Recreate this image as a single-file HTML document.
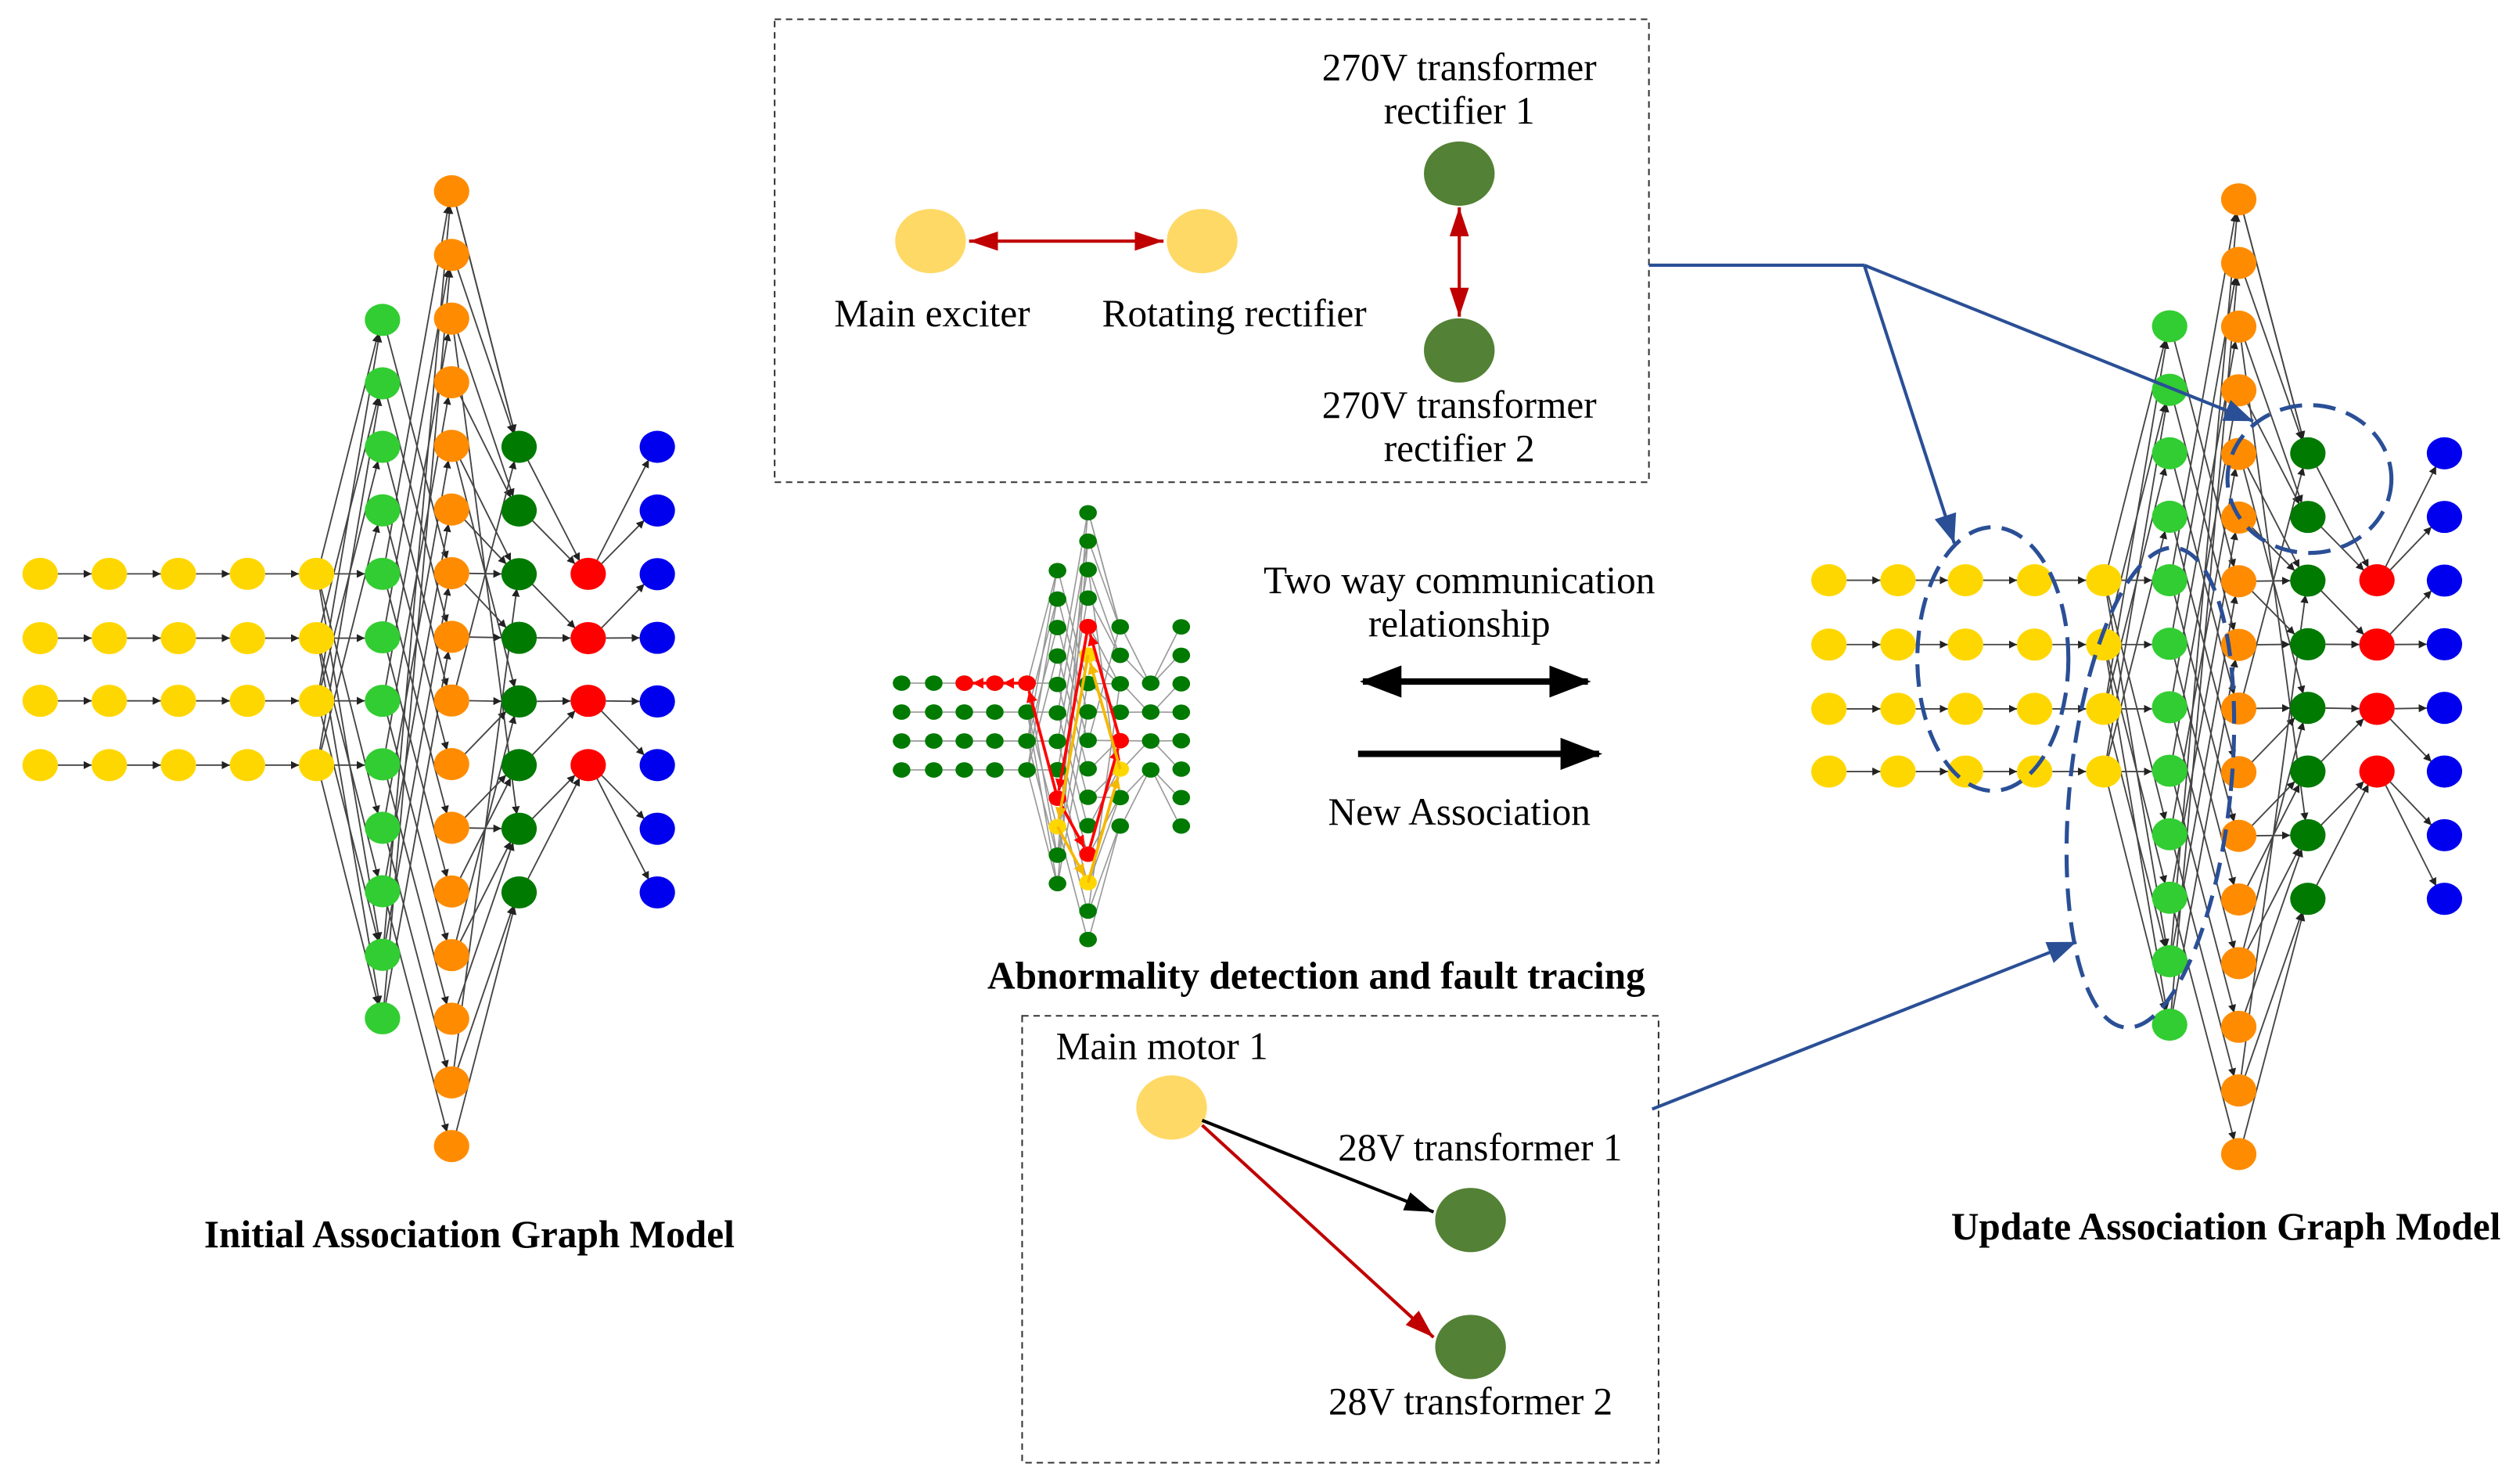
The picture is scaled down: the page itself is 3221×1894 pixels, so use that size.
<!DOCTYPE html>
<html><head><meta charset="utf-8">
<style>
html,body{margin:0;padding:0;background:#fff;}
svg{display:block;}
text{font-family:"Liberation Serif",serif;fill:#000;}
</style></head>
<body>
<svg id="s" width="3221" height="1894" viewBox="0 0 1568 922" xmlns="http://www.w3.org/2000/svg">
<defs>
<marker id="ak" markerWidth="6" markerHeight="6" refX="5" refY="3" orient="auto" markerUnits="userSpaceOnUse"><path d="M0,0.5 L5,3 L0,5.5z" fill="#222"/></marker>
<marker id="bb" markerWidth="20" markerHeight="16" refX="18" refY="8" orient="auto" markerUnits="userSpaceOnUse"><path d="M0,1 L18,8 L0,15z" fill="#2a4f96"/></marker>
<marker id="rr" markerWidth="20" markerHeight="14" refX="18" refY="7" orient="auto-start-reverse" markerUnits="userSpaceOnUse"><path d="M0,1 L18,7 L0,13z" fill="#c00000"/></marker>
<marker id="kk" markerWidth="20" markerHeight="14" refX="18" refY="7" orient="auto" markerUnits="userSpaceOnUse"><path d="M0,1 L18,7 L0,13z" fill="#000"/></marker>
<marker id="KK" markerWidth="26" markerHeight="20" refX="24" refY="10" orient="auto-start-reverse" markerUnits="userSpaceOnUse"><path d="M0,0 L26,10 L0,20z" fill="#000"/></marker>
<marker id="mr" markerWidth="8" markerHeight="8" refX="7" refY="4" orient="auto" markerUnits="userSpaceOnUse"><path d="M0,0.5 L7,4 L0,7.5z" fill="#f00"/></marker>
<marker id="my" markerWidth="8" markerHeight="8" refX="7" refY="4" orient="auto" markerUnits="userSpaceOnUse"><path d="M0,0.5 L7,4 L0,7.5z" fill="#f5b800"/></marker>
</defs>
<g id="g"></g>

<rect x="482" y="12" width="544" height="288" fill="none" stroke="#333" stroke-width="1" stroke-dasharray="4,3"/>
<ellipse cx="579" cy="150" rx="22" ry="20" fill="#ffd966"/>
<ellipse cx="748" cy="150" rx="22" ry="20" fill="#ffd966"/>
<line x1="603" y1="150" x2="724" y2="150" stroke="#c00000" stroke-width="2" marker-end="url(#rr)" marker-start="url(#rr)"/>
<ellipse cx="908" cy="108" rx="22" ry="20" fill="#538135"/>
<ellipse cx="908" cy="218" rx="22" ry="20" fill="#538135"/>
<line x1="908" y1="129" x2="908" y2="197" stroke="#c00000" stroke-width="2" marker-end="url(#rr)" marker-start="url(#rr)"/>
<text x="580" y="203" font-size="24" text-anchor="middle">Main exciter</text>
<text x="768" y="203" font-size="24" text-anchor="middle">Rotating rectifier</text>
<text x="908" y="50" font-size="24" text-anchor="middle">270V transformer</text>
<text x="908" y="77" font-size="24" text-anchor="middle">rectifier 1</text>
<text x="908" y="260" font-size="24" text-anchor="middle">270V transformer</text>
<text x="908" y="287" font-size="24" text-anchor="middle">rectifier 2</text>

<rect x="636" y="632" width="396" height="278" fill="none" stroke="#333" stroke-width="1" stroke-dasharray="4,3"/>
<text x="723" y="659" font-size="24" text-anchor="middle">Main motor 1</text>
<ellipse cx="729" cy="689" rx="22" ry="20" fill="#ffd966"/>
<ellipse cx="915" cy="759" rx="22" ry="20" fill="#538135"/>
<ellipse cx="915" cy="838" rx="22" ry="20" fill="#538135"/>
<line x1="748" y1="697" x2="892" y2="754" stroke="#000" stroke-width="2" marker-end="url(#kk)"/>
<line x1="748" y1="700" x2="892" y2="832" stroke="#c00000" stroke-width="2" marker-end="url(#rr)"/>
<text x="921" y="722" font-size="24" text-anchor="middle">28V transformer 1</text>
<text x="915" y="880" font-size="24" text-anchor="middle">28V transformer 2</text>

<text x="908" y="369" font-size="24" text-anchor="middle">Two way communication</text>
<text x="908" y="396" font-size="24" text-anchor="middle">relationship</text>
<line x1="848" y1="424" x2="988" y2="424" stroke="#000" stroke-width="4" marker-end="url(#KK)" marker-start="url(#KK)"/>
<line x1="845" y1="469" x2="995" y2="469" stroke="#000" stroke-width="4" marker-end="url(#KK)"/>
<text x="908" y="513" font-size="24" text-anchor="middle">New Association</text>

<text x="819" y="615" font-size="24" font-weight="bold" text-anchor="middle">Abnormality detection and fault tracing</text>
<text x="292" y="776" font-size="24" font-weight="bold" text-anchor="middle">Initial Association Graph Model</text>
<text x="1385" y="771" font-size="24" font-weight="bold" text-anchor="middle">Update Association Graph Model</text>

<polyline points="1026,165 1160,165" fill="none" stroke="#2a4f96" stroke-width="2"/>
<line x1="1160" y1="165" x2="1216" y2="338" stroke="#2a4f96" stroke-width="2" marker-end="url(#bb)"/>
<line x1="1160" y1="165" x2="1402" y2="262" stroke="#2a4f96" stroke-width="2" marker-end="url(#bb)"/>
<line x1="1028" y1="690" x2="1292" y2="586" stroke="#2a4f96" stroke-width="2" marker-end="url(#bb)"/>
<ellipse cx="1240" cy="410" rx="47" ry="82" fill="none" stroke="#2a4f96" stroke-width="2.5" stroke-dasharray="14,7"/>
<ellipse cx="1338" cy="490" rx="50" ry="150" transform="rotate(6 1338 490)" fill="none" stroke="#2a4f96" stroke-width="2.5" stroke-dasharray="14,7"/>
<ellipse cx="1437" cy="298" rx="51" ry="46" fill="none" stroke="#2a4f96" stroke-width="2.5" stroke-dasharray="14,7"/>
</svg>
<script>
(function(){
var NS="http://www.w3.org/2000/svg",g=document.getElementById("g");
function el(t,a){var e=document.createElementNS(NS,t);for(var k in a)e.setAttribute(k,a[k]);g.appendChild(e);return e;}
function col(n,y0,step){var r=[];for(var i=0;i<n;i++)r.push(y0+i*step);return r;}
function graph(X,ys,rx,ry,sw,stroke,colors,marker){
 var yl=ys.yl, lg=ys.lg, orr=ys.or, dg=ys.dg, rd=ys.rd, bl=ys.bl;
 var edges=[];
 function E(x1,y1,x2,y2){edges.push([x1,y1,x2,y2]);}
 for(var r=0;r<4;r++)for(var i=0;i<4;i++)E(X[i],yl[r],X[i+1],yl[r]);
 for(var r=0;r<4;r++){E(X[4],yl[r],X[5],yl[r]);E(X[4],yl[r],X[5],lg[r]);E(X[4],yl[r],X[5],lg[8+r]);E(X[4],yl[r],X[5],lg[(r+10)%12]);}
 for(var i=0;i<12;i++){E(X[5],lg[i],X[6],orr[(i+6)%16]);if(i>3)E(X[5],lg[i],X[6],orr[i-4]);}
 for(var i=0;i<16;i++){E(X[6],orr[i],X[7],dg[Math.min(7,Math.max(0,Math.floor(i/2)))]);if(i%2==0)E(X[6],orr[i],X[7],dg[(i*3)%8]);}
 for(var i=0;i<8;i++){E(X[7],dg[i],X[8],rd[Math.min(3,Math.floor(i/2))]);}
 for(var i=0;i<8;i++)E(X[8],rd[Math.min(3,Math.floor(i/2))],X[9],bl[i]);
 edges.forEach(function(e){var dx=e[2]-e[0],dy=e[3]-e[1],L=Math.sqrt(dx*dx+dy*dy)||1;
  el("line",{x1:e[0]+dx/L*rx,y1:e[1]+dy/L*ry*0.9,x2:e[2]-dx/L*rx,y2:e[3]-dy/L*ry*0.9,stroke:stroke,"stroke-width":sw,"marker-end":marker?"url(#"+marker+")":""});});
 function nodes(x,arr,c){arr.forEach(function(y,i){el("ellipse",{cx:x,cy:y,rx:rx,ry:ry,fill:typeof c=="function"?c(i):c});});}
 for(var i=0;i<5;i++)nodes(X[i],yl,colors.y);
 nodes(X[5],lg,colors.lg);nodes(X[6],orr,colors.or);nodes(X[7],dg,colors.dg);nodes(X[8],rd,colors.rd);nodes(X[9],bl,colors.bl);
}
graph([25,68,111,154,197,238,281,323,366,409],
 {yl:[357,397,436,476],lg:col(12,199,39.5),or:col(16,119,39.6),dg:col(8,278,39.6),rd:[357,397,436,476],bl:col(8,278,39.6)},
 11,10,0.9,"#444",{y:"#ffd700",lg:"#32cd32",or:"#ff8c00",dg:"#007a00",rd:"#ff0000",bl:"#0000ee"},"ak");
graph([1138,1181,1223,1266,1309,1350,1393,1436,1479,1521],
 {yl:[361,401,441,480],lg:col(12,203,39.5),or:col(16,124,39.6),dg:col(8,282,39.6),rd:[361,401,441,480],bl:col(8,282,39.6)},
 11,10,0.9,"#444",{y:"#ffd700",lg:"#32cd32",or:"#ff8c00",dg:"#007a00",rd:"#ff0000",bl:"#0000ee"},"ak");
var G="#007a00";
var m={yl:[425,443,461,479],lg:col(12,355,17.7),or:col(16,319,17.7),dg:col(8,390,17.7),rd:[425,443,461,479],bl:col(8,390,17.7)};
graph([561,581,600,619,639,658,677,697,716,735],m,5.5,4.8,0.8,"#999",
 {y:function(i){return G;},lg:function(i){return i==8?"#f00":i==9?"#ffd700":G;},or:function(i){return i==4||i==12?"#f00":i==5||i==13?"#ffd700":G;},dg:function(i){return i==4?"#f00":i==5?"#ffd700":G;},rd:G,bl:G},null);
[600,619,639].forEach(function(x){el("ellipse",{cx:x,cy:425,rx:5.5,ry:4.8,fill:"#f00"});});
function P(pts,c,mk){for(var i=0;i<pts.length-1;i++){var a=pts[i],b=pts[i+1],dx=b[0]-a[0],dy=b[1]-a[1],L=Math.sqrt(dx*dx+dy*dy);
 el("line",{x1:a[0],y1:a[1],x2:b[0]-dx/L*5,y2:b[1]-dy/L*5,stroke:c,"stroke-width":1.8,"marker-end":"url(#"+mk+")"});}}
var lgx=658,orx=677,dgx=697;
P([[639,425],[619,425],[600,425]],"#f00","mr");
P([[lgx,m.lg[8]],[639,425]],"#f00","mr");
P([[orx,m.or[4]],[lgx,m.lg[8]],[orx,m.or[12]],[dgx,m.dg[4]],[orx,m.or[4]]],"#f00","mr");
P([[orx,m.or[5]],[lgx,m.lg[9]],[orx,m.or[13]],[dgx,m.dg[5]],[orx,m.or[5]]],"#f5b800","my");
})();
</script>
</body></html>
